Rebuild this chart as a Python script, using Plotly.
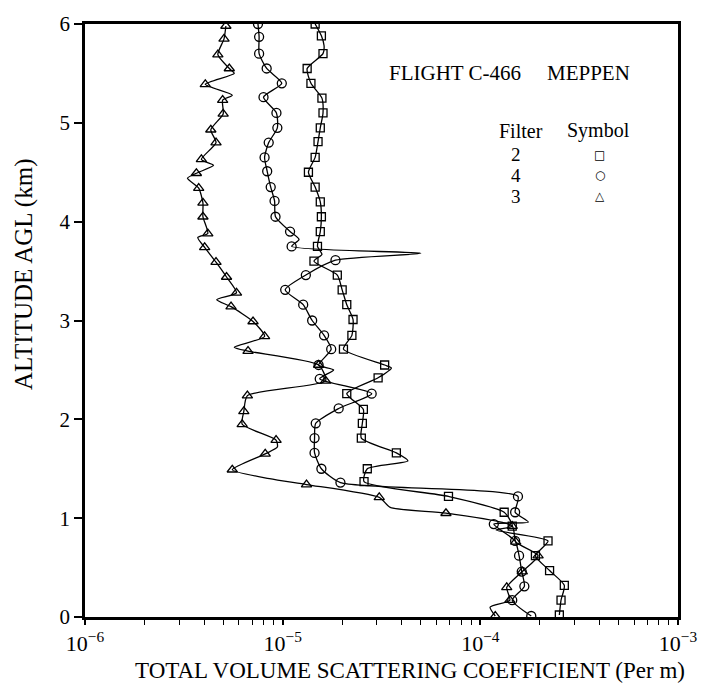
import plotly.graph_objects as go

# ---------------- data (altitude km, scattering coefficient per m) ----------------
# Filter 2 (squares): symbol points
f2_alt = [6.00, 5.88, 5.70, 5.55, 5.40, 5.25, 5.10, 4.95, 4.81, 4.65, 4.50, 4.35, 4.20,
          4.05, 3.90, 3.75, 3.60, 3.46, 3.31, 3.16, 3.01, 2.85, 2.71, 2.55, 2.42, 2.26,
          2.10, 1.96, 1.81, 1.66, 1.50, 1.37, 1.22, 1.06, 0.92, 0.77, 0.62, 0.47, 0.32,
          0.17, 0.02]
f2_val = [1.46e-5, 1.57e-5, 1.60e-5, 1.33e-5, 1.39e-5, 1.58e-5, 1.60e-5, 1.55e-5, 1.51e-5,
          1.46e-5, 1.35e-5, 1.46e-5, 1.55e-5, 1.57e-5, 1.55e-5, 1.50e-5, 1.44e-5, 1.89e-5,
          2.00e-5, 2.11e-5, 2.27e-5, 2.24e-5, 2.03e-5, 3.28e-5, 3.04e-5, 2.11e-5, 2.56e-5,
          2.53e-5, 2.50e-5, 3.76e-5, 2.68e-5, 2.58e-5, 6.90e-5, 1.32e-4, 1.45e-4, 2.20e-4,
          1.90e-4, 2.24e-4, 2.66e-4, 2.56e-4, 2.51e-4]
# Filter 2: intermediate trace points (no symbol)
f2_alt_tr = [5.78, 3.67, 2.52, 1.58, 0.88]
f2_val_tr = [1.62e-5, 1.58e-5, 3.55e-5, 4.30e-5, 1.20e-4]

# Filter 4 (circles)
f4_alt = [6.00, 5.87, 5.70, 5.55, 5.40, 5.26, 5.10, 4.95, 4.80, 4.65, 4.51, 4.35, 4.21,
          4.05, 3.90, 3.75, 3.61, 3.46, 3.31, 3.16, 3.00, 2.85, 2.71, 2.55, 2.41, 2.26,
          2.11, 1.96, 1.81, 1.66, 1.50, 1.36, 1.22, 1.06, 0.94, 0.77, 0.62, 0.46, 0.31,
          0.17, 0.01]
f4_val = [7.5e-6, 7.6e-6, 7.6e-6, 8.3e-6, 9.9e-6, 8.0e-6, 9.3e-6, 9.4e-6, 8.5e-6, 8.1e-6,
          8.35e-6, 8.7e-6, 9.1e-6, 9.2e-6, 1.09e-5, 1.11e-5, 1.85e-5, 1.31e-5, 1.03e-5,
          1.27e-5, 1.41e-5, 1.62e-5, 1.76e-5, 1.52e-5, 1.54e-5, 2.82e-5, 1.92e-5, 1.47e-5,
          1.45e-5, 1.45e-5, 1.57e-5, 1.96e-5, 1.55e-4, 1.50e-4, 1.17e-4, 1.50e-4, 1.57e-4,
          1.62e-4, 1.67e-4, 1.45e-4, 1.81e-4]
f4_alt_tr = [3.82, 3.68, 2.50, 0.96]
f4_val_tr = [1.21e-5, 5.0e-5, 1.81e-5, 1.75e-4]

# Filter 3 (triangles)
f3_alt = [5.98, 5.85, 5.69, 5.55, 5.39, 5.23, 5.09, 4.93, 4.80, 4.63, 4.49, 4.34, 4.19,
          4.05, 3.88, 3.74, 3.59, 3.44, 3.28, 3.14, 2.99, 2.84, 2.69, 2.55, 2.39, 2.24,
          2.08, 1.95, 1.79, 1.65, 1.49, 1.34, 1.21, 1.05, 0.92, 0.76, 0.62, 0.46, 0.30,
          0.17, 0.01]
f3_val = [5.16e-6, 5.05e-6, 4.70e-6, 5.37e-6, 4.06e-6, 4.97e-6, 5.00e-6, 4.33e-6, 4.60e-6,
          3.88e-6, 3.66e-6, 3.76e-6, 3.95e-6, 3.95e-6, 4.18e-6, 4.03e-6, 4.60e-6, 5.20e-6,
          5.84e-6, 5.48e-6, 7.08e-6, 8.10e-6, 6.68e-6, 1.52e-5, 1.65e-5, 6.63e-6, 6.36e-6,
          6.24e-6, 9.26e-6, 8.16e-6, 5.56e-6, 1.32e-5, 3.08e-5, 6.70e-5, 1.45e-4, 1.51e-4,
          1.96e-4, 1.63e-4, 1.36e-4, 1.41e-4, 1.19e-4]
f3_alt_tr = [5.50, 5.28, 4.57, 4.44, 3.84, 3.21, 2.73, 1.72, 1.40, 1.11, 0.10]
f3_val_tr = [5.69e-6, 5.56e-6, 4.47e-6, 3.30e-6, 3.72e-6, 4.64e-6, 5.69e-6, 9.40e-6, 8.58e-6,
             3.50e-5, 1.12e-4]

x_tick_vals = [1e-6, 1e-5, 1e-4, 1e-3]
x_tick_text = ["10<sup>\u22126</sup>", "10<sup>\u22125</sup>", "10<sup>\u22124</sup>", "10<sup>\u22123</sup>"]
y_tick_vals = [0, 1, 2, 3, 4, 5, 6]

legend_filters = ["2", "4", "3"]
legend_symbols = ["\u25a1", "\u25cb", "\u25b3"]

FONT = "Liberation Serif"


def merged(alt_s, val_s, alt_t, val_t):
    pts = list(zip(alt_s, val_s)) + list(zip(alt_t, val_t))
    pts.sort(key=lambda p: -p[0])
    return [p[1] for p in pts], [p[0] for p in pts]


fig = go.Figure()
series = [
    (f2_alt, f2_val, f2_alt_tr, f2_val_tr, "square-open", 8),
    (f4_alt, f4_val, f4_alt_tr, f4_val_tr, "circle-open", 9),
    (f3_alt, f3_val, f3_alt_tr, f3_val_tr, "triangle-up-open", 9),
]
for a, v, at, vt, sym, sz in series:
    lx, ly = merged(a, v, at, vt)
    fig.add_trace(go.Scatter(x=lx, y=ly, mode="lines",
                             line=dict(color="black", width=1.3, shape="spline", smoothing=0.6),
                             showlegend=False, hoverinfo="skip"))
    fig.add_trace(go.Scatter(x=v, y=a, mode="markers",
                             marker=dict(symbol=sym, size=sz, color="black",
                                         line=dict(color="black", width=1.3)),
                             showlegend=False))

minor_vals = [m * 10 ** e for e in (-6, -5, -4) for m in range(2, 10)]

fig.update_xaxes(type="log", range=[-6, -3], tickvals=x_tick_vals, ticktext=x_tick_text,
                 ticks="outside", ticklen=5, tickwidth=1.5, tickcolor="black",
                 showline=True, linecolor="black", linewidth=2.5, mirror=True,
                 showgrid=False, zeroline=False,
                 tickfont=dict(family=FONT, size=22, color="black"),
                 minor=dict(tickvals=minor_vals, ticks="outside", ticklen=5, tickwidth=1.2,
                            tickcolor="black", showgrid=False))
fig.update_yaxes(range=[0, 6], tickvals=y_tick_vals, ticks="outside", ticklen=8, tickwidth=1.5,
                 tickcolor="black", showline=True, linecolor="black", linewidth=2.5, mirror=True,
                 showgrid=False, zeroline=False,
                 tickfont=dict(family=FONT, size=21, color="black"))

L, R, T, B = 85, 26, 18, 72
pw, ph = 709 - L - R, 689 - T - B


def px(xp):
    return (xp - L) / pw


def py(yp):
    return (689 - B - yp) / ph


ann = [dict(x=px(413), y=py(671), text="TOTAL VOLUME SCATTERING COEFFICIENT (Per m)",
            xanchor="center", font=dict(family=FONT, size=23, color="black")),
       dict(x=px(24), y=py(271), text="ALTITUDE AGL (km)", textangle=-90, xanchor="center",
            font=dict(family=FONT, size=25, color="black")),
       dict(x=px(390), y=py(67), text="FLIGHT C-466", xanchor="left",
            font=dict(family=FONT, size=21, color="black")),
       dict(x=px(637), y=py(67), text="MEPPEN", xanchor="right",
            font=dict(family=FONT, size=21, color="black")),
       dict(x=px(500), y=py(126), text="Filter", xanchor="left",
            font=dict(family=FONT, size=20, color="black")),
       dict(x=px(637), y=py(126), text="Symbol", xanchor="right",
            font=dict(family=FONT, size=20, color="black"))]
row_y = [150, 171, 192]
for f, s, yy in zip(legend_filters, legend_symbols, row_y):
    ann.append(dict(x=px(520), y=py(yy), text=f, xanchor="center",
                    font=dict(family=FONT, size=19, color="black")))
    ann.append(dict(x=px(604), y=py(yy), text=s, xanchor="center",
                    font=dict(family="DejaVu Sans", size=12, color="black")))
for a in ann:
    a.update(xref="paper", yref="paper", showarrow=False, yanchor="middle")

fig.update_layout(width=709, height=689, margin=dict(l=L, r=R, t=T, b=B),
                  paper_bgcolor="white", plot_bgcolor="white", annotations=ann,
                  showlegend=False)

fig.write_html("out.html")
